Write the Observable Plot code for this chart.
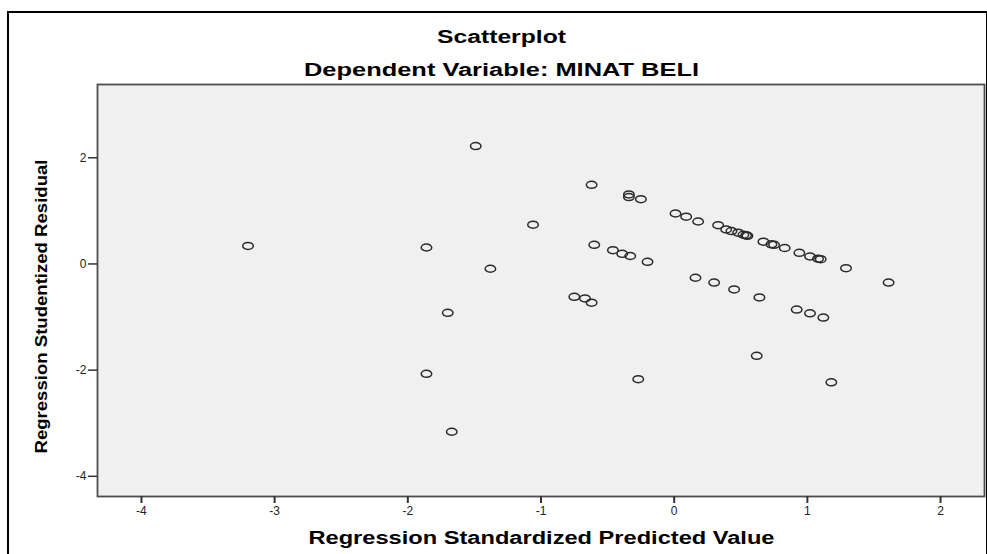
<!DOCTYPE html>
<html>
<head>
<meta charset="utf-8">
<script src="https://cdn.jsdelivr.net/npm/d3@7"></script>
<script src="https://cdn.jsdelivr.net/npm/@observablehq/plot@0.6"></script>
<style>
  html, body { margin: 0; padding: 0; background: white; }
  #wrap { position: relative; width: 987px; height: 554px; overflow: hidden; }
  #border { position: absolute; left: 7px; top: 11px; width: 977px; height: 600px; border-left: 2px solid #000; border-top: 2px solid #000; border-right: 2px solid #000; pointer-events: none; }
  #chart svg { display: block; }
</style>
</head>
<body>
<div id="wrap">
  <div id="chart"></div>
  <div id="border"></div>
</div>
<script>
const predicted = [
  -3.20, -1.86, -1.49, -1.38, -1.06, -1.70, -1.86, -1.67,
  -0.62, -0.34, -0.34, -0.25, -0.60, -0.46, -0.39, -0.33, -0.20,
  -0.75, -0.67, -0.62, -0.27,
  0.01, 0.09, 0.18, 0.33, 0.39, 0.43, 0.48, 0.52, 0.54, 0.55,
  0.67, 0.73, 0.75, 0.83, 0.94, 1.02, 1.08, 1.10, 1.29, 1.61,
  0.16, 0.30, 0.45, 0.64, 0.92, 1.02, 1.12, 0.62, 1.18
];
const residual = [
  0.34, 0.31, 2.22, -0.09, 0.74, -0.92, -2.07, -3.16,
  1.49, 1.31, 1.26, 1.22, 0.36, 0.26, 0.19, 0.15, 0.04,
  -0.62, -0.65, -0.73, -2.17,
  0.95, 0.89, 0.80, 0.73, 0.65, 0.62, 0.59, 0.55, 0.54, 0.53,
  0.42, 0.37, 0.36, 0.30, 0.21, 0.14, 0.10, 0.09, -0.08, -0.35,
  -0.26, -0.35, -0.48, -0.63, -0.86, -0.93, -1.01, -1.73, -2.23
];
const xTicks = [-4, -3, -2, -1, 0, 1, 2];
const yTicks = [-4, -2, 0, 2];
const titleText = "Scatterplot";
const subtitleText = "Dependent Variable: MINAT BELI";
const xLabel = "Regression Standardized Predicted Value";
const yLabel = "Regression Studentized Residual";

const points = predicted.map((p, i) => ({x: p, y: residual[i]}));

// hollow marker, wider than tall like the (stretched) SPSS circles
const ellipse = {
  draw(ctx, size) {
    const r = Math.sqrt(size / Math.PI);
    const rx = r * 1.05, ry = r * 0.7, k = 0.5523;
    ctx.moveTo(rx, 0);
    ctx.bezierCurveTo(rx, ry * k, rx * k, ry, 0, ry);
    ctx.bezierCurveTo(-rx * k, ry, -rx, ry * k, -rx, 0);
    ctx.bezierCurveTo(-rx, -ry * k, -rx * k, -ry, 0, -ry);
    ctx.bezierCurveTo(rx * k, -ry, rx, -ry * k, rx, 0);
    ctx.closePath();
  }
};

const font = "Liberation Sans, Arial, sans-serif";
const chart = Plot.plot({
  width: 987,
  height: 554,
  marginLeft: 97,
  marginRight: 3,
  marginTop: 84,
  marginBottom: 58,
  style: {background: "transparent", fontFamily: font, fontSize: "12px", color: "#222"},
  x: {domain: [-4.33, 2.33]},
  y: {domain: [-4.38, 3.38]},
  marks: [
    Plot.frame({fill: "#f0f0f0", stroke: null}),
    Plot.dot(points, {x: "x", y: "y", symbol: ellipse, r: 5, stroke: "#2a2a2a", strokeWidth: 1.5, fill: "none"}),
    Plot.frame({stroke: "#4d4d4d", strokeWidth: 1.8}),
    Plot.axisX({ticks: xTicks, tickFormat: d => String(d), tickSize: 7, tickPadding: 3, stroke: "#333", strokeWidth: 2, label: null, fill: "#222"}),
    Plot.axisY({ticks: yTicks, tickFormat: d => String(d), tickSize: 9, tickPadding: 2, stroke: "#333", strokeWidth: 1.5, label: null, fill: "#222"}),
    Plot.text([titleText], {text: d => d, frameAnchor: "top", lineAnchor: "middle", textAnchor: "middle", dx: -39.5, dy: -47, fontSize: 18, fontWeight: "bold", fill: "#000"}),
    Plot.text([subtitleText], {text: d => d, frameAnchor: "top", lineAnchor: "middle", textAnchor: "middle", dx: -39.5, dy: -14.5, fontSize: 18, fontWeight: "bold", fill: "#000"}),
    Plot.text([xLabel], {text: d => d, frameAnchor: "bottom", lineAnchor: "middle", textAnchor: "middle", dx: 0.5, dy: 41.5, fontSize: 18, fontWeight: "bold", fill: "#000"}),
    Plot.text([yLabel], {text: d => d, frameAnchor: "left", lineAnchor: "middle", textAnchor: "middle", dx: -56, dy: 16, rotate: -90, fontSize: 17, fontWeight: "bold", fill: "#000"})
  ]
});
document.getElementById("chart").appendChild(chart);

// stretch texts horizontally to the widths seen in the reference image
const stretch = {[titleText]: 129, [subtitleText]: 395, [xLabel]: 466, [yLabel]: 294};
chart.querySelectorAll("text").forEach(t => {
  const len = stretch[t.textContent];
  if (len) {
    t.setAttribute("textLength", len);
    t.setAttribute("lengthAdjust", "spacingAndGlyphs");
  }
});
</script>
</body>
</html>
